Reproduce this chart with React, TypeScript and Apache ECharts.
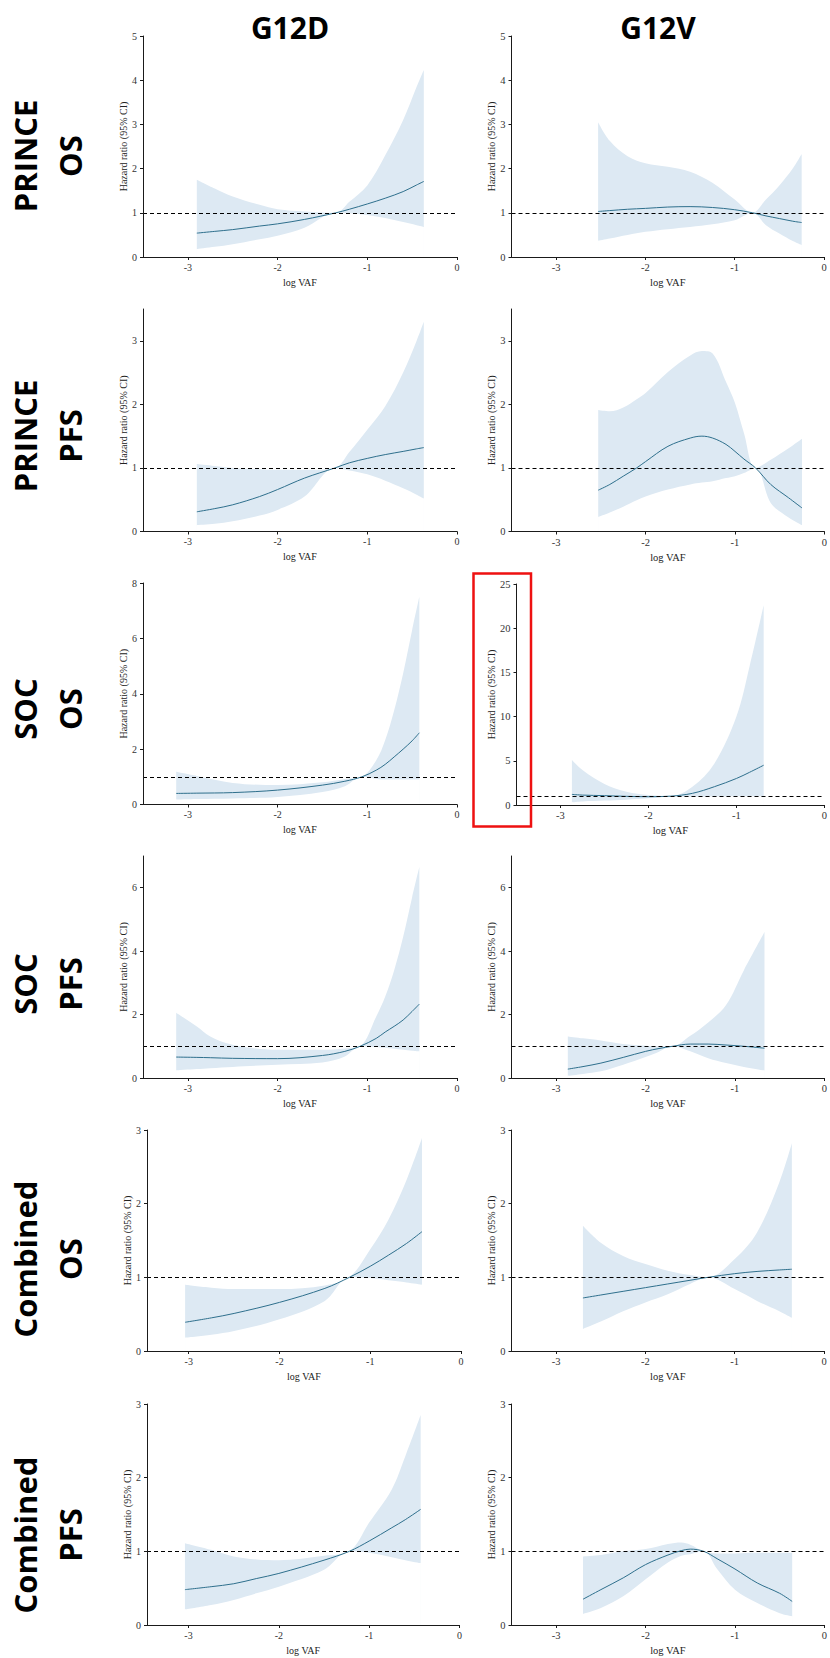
import React, { useEffect, useRef } from "react";
import * as echarts from "echarts";

// ---------- texts ----------
const colTitles = ["G12D", "G12V"];
const rowLabels = ["PRINCE\nOS", "PRINCE\nPFS", "SOC\nOS", "SOC\nPFS", "Combined\nOS", "Combined\nPFS"];
const xName = "log VAF";
const yName = "Hazard ratio (95% CI)";
const xTickValues = [-3, -2, -1, 0];
const referenceHR = 1;

// ---------- data (x = log VAF, hr = hazard ratio, lo/hi = 95% CI) ----------
// PRINCE OS, G12D
const princeOsD_x = [-2.9, -2.7, -2.5, -2.2, -2.0, -1.7, -1.35, -1.2, -1.0, -0.8, -0.6, -0.45, -0.37];
const princeOsD_hr = [0.54, 0.58, 0.62, 0.70, 0.75, 0.85, 1.0, 1.08, 1.2, 1.33, 1.48, 1.63, 1.71];
const princeOsD_lo = [0.18, 0.23, 0.29, 0.40, 0.48, 0.66, 1.0, 0.99, 0.95, 0.88, 0.79, 0.72, 0.68];
const princeOsD_hi = [1.75, 1.55, 1.37, 1.18, 1.08, 1.03, 1.0, 1.25, 1.62, 2.3, 3.1, 3.85, 4.23];
// PRINCE OS, G12V
const princeOsV_x = [-2.53, -2.4, -2.2, -2.0, -1.75, -1.5, -1.25, -1.0, -0.8, -0.65, -0.5, -0.35, -0.25];
const princeOsV_hr = [1.03, 1.05, 1.08, 1.1, 1.13, 1.14, 1.12, 1.07, 1.0, 0.93, 0.87, 0.81, 0.78];
const princeOsV_lo = [0.37, 0.42, 0.5, 0.57, 0.63, 0.68, 0.74, 0.83, 1.0, 0.72, 0.53, 0.36, 0.27];
const princeOsV_hi = [3.05, 2.63, 2.28, 2.12, 2.04, 1.93, 1.68, 1.3, 1.0, 1.3, 1.62, 2.0, 2.33];
// PRINCE PFS, G12D
const princePfsD_x = [-2.9, -2.7, -2.5, -2.2, -2.0, -1.7, -1.36, -1.2, -1.0, -0.8, -0.6, -0.45, -0.37];
const princePfsD_hr = [0.31, 0.36, 0.42, 0.55, 0.66, 0.84, 1.0, 1.08, 1.15, 1.21, 1.26, 1.3, 1.32];
const princePfsD_lo = [0.1, 0.12, 0.16, 0.25, 0.34, 0.55, 1.0, 0.96, 0.9, 0.8, 0.68, 0.58, 0.52];
const princePfsD_hi = [1.06, 1.03, 1.0, 0.98, 0.97, 0.97, 1.0, 1.25, 1.6, 1.97, 2.5, 3.0, 3.3];
// PRINCE PFS, G12V
const princePfsV_x = [-2.53, -2.4, -2.25, -2.1, -2.0, -1.75, -1.5, -1.37, -1.25, -1.1, -1.0, -0.9, -0.77, -0.6, -0.4, -0.25];
const princePfsV_hr = [0.65, 0.74, 0.87, 1.0, 1.1, 1.34, 1.47, 1.5, 1.47, 1.37, 1.26, 1.14, 1.0, 0.74, 0.53, 0.37];
const princePfsV_lo = [0.23, 0.3, 0.39, 0.49, 0.55, 0.66, 0.74, 0.77, 0.79, 0.84, 0.87, 0.92, 1.0, 0.45, 0.22, 0.1];
const princePfsV_hi = [1.91, 1.89, 1.95, 2.08, 2.18, 2.51, 2.77, 2.84, 2.8, 2.35, 2.02, 1.55, 1.0, 1.13, 1.31, 1.46];
// SOC OS, G12D
const socOsD_x = [-3.13, -2.9, -2.5, -2.0, -1.5, -1.25, -1.06, -0.9, -0.8, -0.7, -0.6, -0.5, -0.42];
const socOsD_hr = [0.4, 0.41, 0.43, 0.52, 0.7, 0.84, 1.0, 1.24, 1.45, 1.72, 2.0, 2.3, 2.59];
const socOsD_lo = [0.18, 0.2, 0.22, 0.27, 0.45, 0.66, 1.0, 0.92, 0.9, 0.9, 0.9, 0.9, 0.9];
const socOsD_hi = [1.18, 1.03, 0.78, 0.7, 0.8, 0.92, 1.0, 1.6, 2.33, 3.4, 4.74, 6.3, 7.5];
// SOC OS, G12V
const socOsV_x = [-2.87, -2.75, -2.5, -2.25, -2.0, -1.75, -1.5, -1.25, -1.0, -0.85, -0.69];
const socOsV_hr = [1.2, 1.12, 1.06, 0.98, 0.94, 1.0, 1.32, 2.07, 3.0, 3.7, 4.5];
const socOsV_lo = [0.3, 0.4, 0.5, 0.6, 0.75, 1.0, 0.92, 0.95, 0.98, 1.0, 1.0];
const socOsV_hi = [5.1, 3.96, 2.38, 1.5, 1.13, 1.0, 2.07, 4.7, 10.0, 15.7, 22.6];
// SOC PFS, G12D
const socPfsD_x = [-3.13, -2.9, -2.75, -2.5, -2.0, -1.5, -1.25, -1.08, -0.9, -0.8, -0.7, -0.6, -0.5, -0.42];
const socPfsD_hr = [0.66, 0.65, 0.64, 0.62, 0.61, 0.71, 0.84, 1.0, 1.25, 1.45, 1.63, 1.83, 2.1, 2.33];
const socPfsD_lo = [0.24, 0.28, 0.31, 0.35, 0.42, 0.49, 0.68, 1.0, 0.98, 0.95, 0.92, 0.89, 0.86, 0.84];
const socPfsD_hi = [2.06, 1.62, 1.31, 1.05, 0.89, 0.89, 0.93, 1.0, 1.94, 2.57, 3.4, 4.45, 5.7, 6.65];
// SOC PFS, G12V
const socPfsV_x = [-2.87, -2.7, -2.5, -2.25, -2.0, -1.85, -1.7, -1.5, -1.3, -1.1, -0.9, -0.67];
const socPfsV_hr = [0.28, 0.36, 0.47, 0.65, 0.84, 0.93, 1.0, 1.07, 1.07, 1.04, 1.0, 0.94];
const socPfsV_lo = [0.07, 0.13, 0.21, 0.42, 0.66, 0.83, 1.0, 0.84, 0.62, 0.47, 0.35, 0.24];
const socPfsV_hi = [1.31, 1.25, 1.18, 1.07, 1.02, 1.0, 1.0, 1.33, 1.75, 2.3, 3.4, 4.6];
// Combined OS, G12D
const combOsD_x = [-3.04, -2.75, -2.5, -2.0, -1.5, -1.23, -1.0, -0.8, -0.6, -0.43];
const combOsD_hr = [0.39, 0.45, 0.51, 0.66, 0.85, 1.0, 1.15, 1.3, 1.46, 1.62];
const combOsD_lo = [0.18, 0.22, 0.27, 0.43, 0.68, 1.0, 0.99, 0.96, 0.93, 0.9];
const combOsD_hi = [0.9, 0.86, 0.84, 0.84, 0.89, 1.0, 1.38, 1.78, 2.32, 2.89];
// Combined OS, G12V
const combOsV_x = [-2.7, -2.5, -2.25, -2.0, -1.75, -1.5, -1.3, -1.0, -0.75, -0.5, -0.36];
const combOsV_hr = [0.72, 0.76, 0.81, 0.86, 0.91, 0.96, 1.0, 1.05, 1.08, 1.1, 1.11];
const combOsV_lo = [0.3, 0.4, 0.54, 0.66, 0.77, 0.91, 1.0, 0.84, 0.68, 0.54, 0.45];
const combOsV_hi = [1.7, 1.47, 1.29, 1.18, 1.09, 1.03, 1.0, 1.25, 1.61, 2.29, 2.82];
// Combined PFS, G12D
const combPfsD_x = [-3.04, -2.75, -2.5, -2.25, -2.0, -1.5, -1.22, -1.0, -0.75, -0.6, -0.43];
const combPfsD_hr = [0.48, 0.52, 0.56, 0.63, 0.70, 0.88, 1.0, 1.14, 1.32, 1.43, 1.57];
const combPfsD_lo = [0.21, 0.27, 0.34, 0.43, 0.52, 0.75, 1.0, 0.98, 0.92, 0.88, 0.84];
const combPfsD_hi = [1.11, 1.02, 0.93, 0.89, 0.88, 0.94, 1.0, 1.39, 1.84, 2.29, 2.85];
// Combined PFS, G12V
const combPfsV_x = [-2.7, -2.5, -2.25, -2.0, -1.75, -1.6, -1.5, -1.35, -1.2, -1.0, -0.75, -0.5, -0.36];
const combPfsV_hr = [0.35, 0.48, 0.64, 0.82, 0.95, 1.01, 1.03, 1.0, 0.9, 0.76, 0.57, 0.43, 0.32];
const combPfsV_lo = [0.15, 0.23, 0.39, 0.62, 0.85, 0.94, 0.96, 1.0, 0.76, 0.48, 0.3, 0.16, 0.12];
const combPfsV_hi = [0.93, 0.95, 1.0, 1.03, 1.1, 1.12, 1.09, 1.0, 0.97, 0.97, 0.98, 0.98, 0.98];

// y axis extents and tick labels per panel (row-major: G12D, G12V)
const yMaxes = [5, 5, 3.5, 3.5, 8, 25, 7, 7, 3, 3, 3, 3];
const yTickLists = [
  [0, 1, 2, 3, 4, 5], [0, 1, 2, 3, 4, 5],
  [0, 1, 2, 3], [0, 1, 2, 3],
  [0, 2, 4, 6, 8], [0, 5, 10, 15, 20, 25],
  [0, 2, 4, 6], [0, 2, 4, 6],
  [0, 1, 2, 3], [0, 1, 2, 3],
  [0, 1, 2, 3], [0, 1, 2, 3],
];

const panels = [
  { x: princeOsD_x, hr: princeOsD_hr, lo: princeOsD_lo, hi: princeOsD_hi },
  { x: princeOsV_x, hr: princeOsV_hr, lo: princeOsV_lo, hi: princeOsV_hi },
  { x: princePfsD_x, hr: princePfsD_hr, lo: princePfsD_lo, hi: princePfsD_hi },
  { x: princePfsV_x, hr: princePfsV_hr, lo: princePfsV_lo, hi: princePfsV_hi },
  { x: socOsD_x, hr: socOsD_hr, lo: socOsD_lo, hi: socOsD_hi },
  { x: socOsV_x, hr: socOsV_hr, lo: socOsV_lo, hi: socOsV_hi },
  { x: socPfsD_x, hr: socPfsD_hr, lo: socPfsD_lo, hi: socPfsD_hi },
  { x: socPfsV_x, hr: socPfsV_hr, lo: socPfsV_lo, hi: socPfsV_hi },
  { x: combOsD_x, hr: combOsD_hr, lo: combOsD_lo, hi: combOsD_hi },
  { x: combOsV_x, hr: combOsV_hr, lo: combOsV_lo, hi: combOsV_hi },
  { x: combPfsD_x, hr: combPfsD_hr, lo: combPfsD_lo, hi: combPfsD_hi },
  { x: combPfsV_x, hr: combPfsV_hr, lo: combPfsV_lo, hi: combPfsV_hi },
];

// ---------- layout ----------
const boxes = [
  { left: 143, top: 36, width: 314, height: 221, xMin: -3.5, yGap: 12 },
  { left: 511.5, top: 36, width: 312.5, height: 221, xMin: -3.5, yGap: 14 },
  { left: 143, top: 309, width: 314, height: 222.5, xMin: -3.5, yGap: 12 },
  { left: 511.5, top: 309, width: 313, height: 222.5, xMin: -3.5, yGap: 14 },
  { left: 143, top: 583, width: 314, height: 221.5, xMin: -3.5, yGap: 12 },
  { left: 516.5, top: 584, width: 308.5, height: 221, xMin: -3.5, yGap: 19 },
  { left: 143, top: 856, width: 314, height: 222, xMin: -3.5, yGap: 12 },
  { left: 511.5, top: 856, width: 313.5, height: 222, xMin: -3.5, yGap: 14 },
  { left: 147, top: 1130, width: 314, height: 221, xMin: -3.46, yGap: 12 },
  { left: 511.5, top: 1130, width: 312.5, height: 221, xMin: -3.5, yGap: 14 },
  { left: 147, top: 1404, width: 312.5, height: 221, xMin: -3.46, yGap: 12 },
  { left: 511.5, top: 1404, width: 313, height: 221, xMin: -3.5, yGap: 14 },
];
const rowCenters = [156, 436, 709, 984, 1259, 1535];
const colTitleX = [290, 658];

const BAND = "#dde9f3";
const LINE = "#2e6f8c";
const AXIS = "#1a1a1a";
const SERIF = '"Liberation Serif", "Times New Roman", serif';
const SANS = '"Open Sans", "Noto Sans", sans-serif';
const SMOOTH = 0.35;

function buildOption() {
  const grid: any[] = [];
  const xAxis: any[] = [];
  const yAxis: any[] = [];
  const series: any[] = [];
  boxes.forEach((b, i) => {
    const right = i % 2 === 1;
    const fs = right ? 10.5 : 10;
    grid.push({ left: b.left, top: b.top, width: b.width, height: b.height, containLabel: false });
    xAxis.push({
      type: "value",
      gridIndex: i,
      min: b.xMin,
      max: 0,
      z: 10,
      name: xName,
      nameLocation: "middle",
      nameGap: 20,
      nameTextStyle: { fontFamily: SERIF, fontSize: fs, color: "#222" },
      axisLine: { show: true, onZero: false, lineStyle: { color: AXIS, width: 1 } },
      axisTick: { show: true, length: 3, customValues: xTickValues, lineStyle: { color: AXIS, width: 1 } },
      axisLabel: { customValues: xTickValues, margin: 5, fontFamily: SERIF, fontSize: fs, color: "#333" },
      splitLine: { show: false },
    });
    yAxis.push({
      type: "value",
      gridIndex: i,
      min: 0,
      max: yMaxes[i],
      z: 10,
      name: yName,
      nameLocation: "middle",
      nameGap: b.yGap,
      nameTextStyle: { fontFamily: SERIF, fontSize: 10, color: "#222" },
      axisLine: { show: true, onZero: false, lineStyle: { color: AXIS, width: 1 } },
      axisTick: { show: true, length: 3, customValues: yTickLists[i], lineStyle: { color: AXIS, width: 1 } },
      axisLabel: { customValues: yTickLists[i], margin: 6, fontFamily: SERIF, fontSize: fs, color: "#333" },
      splitLine: { show: false },
    });
    const p = panels[i];
    const n = p.x.length - 1;
    // upper CI filled down to the axis
    series.push({
      type: "line",
      xAxisIndex: i,
      yAxisIndex: i,
      data: p.x.map((v, k) => [v, p.hi[k]]),
      symbol: "none",
      smooth: SMOOTH,
      silent: true,
      lineStyle: { opacity: 0, width: 0 },
      areaStyle: { color: BAND, opacity: 1, origin: "start" },
      z: 1,
    });
    // lower CI: blank out below it (plus clean end edges)
    series.push({
      type: "line",
      xAxisIndex: i,
      yAxisIndex: i,
      data: p.x.map((v, k) => [v, p.lo[k]]),
      symbol: "none",
      smooth: SMOOTH,
      silent: true,
      lineStyle: { opacity: 0, width: 0 },
      areaStyle: { color: "#ffffff", opacity: 1, origin: "start" },
      z: 2,
      markLine: {
        silent: true,
        symbol: "none",
        label: { show: false },
        lineStyle: { type: "solid", color: "#ffffff", width: 1.5 },
        data: [
          [{ coord: [p.x[0], p.lo[0]] }, { coord: [p.x[0], 0] }],
          [{ coord: [p.x[n], p.lo[n]] }, { coord: [p.x[n], 0] }],
        ],
      },
    });
    // hazard ratio curve + reference line
    series.push({
      type: "line",
      xAxisIndex: i,
      yAxisIndex: i,
      data: p.x.map((v, k) => [v, p.hr[k]]),
      symbol: "none",
      smooth: SMOOTH,
      silent: true,
      lineStyle: { color: LINE, width: 1 },
      z: 3,
      markLine: {
        silent: true,
        symbol: "none",
        label: { show: false },
        lineStyle: { type: [4, 3], color: "#000", width: 1 },
        data: [{ yAxis: referenceHR }],
      },
    });
  });

  const graphic: any[] = [];
  colTitles.forEach((t, c) => {
    graphic.push({
      type: "text",
      x: colTitleX[c],
      y: 27,
      style: { text: t, fontFamily: SANS, fontWeight: "bold", fontSize: 30, fill: "#000", align: "center", verticalAlign: "middle" },
    });
  });
  rowLabels.forEach((t, r) => {
    graphic.push({
      type: "text",
      x: 47,
      y: rowCenters[r],
      rotation: Math.PI / 2,
      style: { text: t, fontFamily: SANS, fontWeight: "bold", fontSize: 31, lineHeight: 45, fill: "#000", align: "center", verticalAlign: "middle" },
    });
  });
  graphic.push({
    type: "rect",
    shape: { x: 473.5, y: 573.5, width: 57.5, height: 253 },
    style: { fill: "none", stroke: "#ee1111", lineWidth: 2.5 },
    z: 100,
  });

  return { animation: false, backgroundColor: "#fff", grid, xAxis, yAxis, series, graphic };
}

export default function App() {
  const ref = useRef<HTMLDivElement>(null);
  useEffect(() => {
    if (!ref.current) return;
    const chart = echarts.init(ref.current, undefined, { renderer: "svg" });
    chart.setOption(buildOption() as any);
    return () => chart.dispose();
  }, []);
  return <div ref={ref} style={{ position: "absolute", left: 0, top: 0, width: 830, height: 1658 }} />;
}
